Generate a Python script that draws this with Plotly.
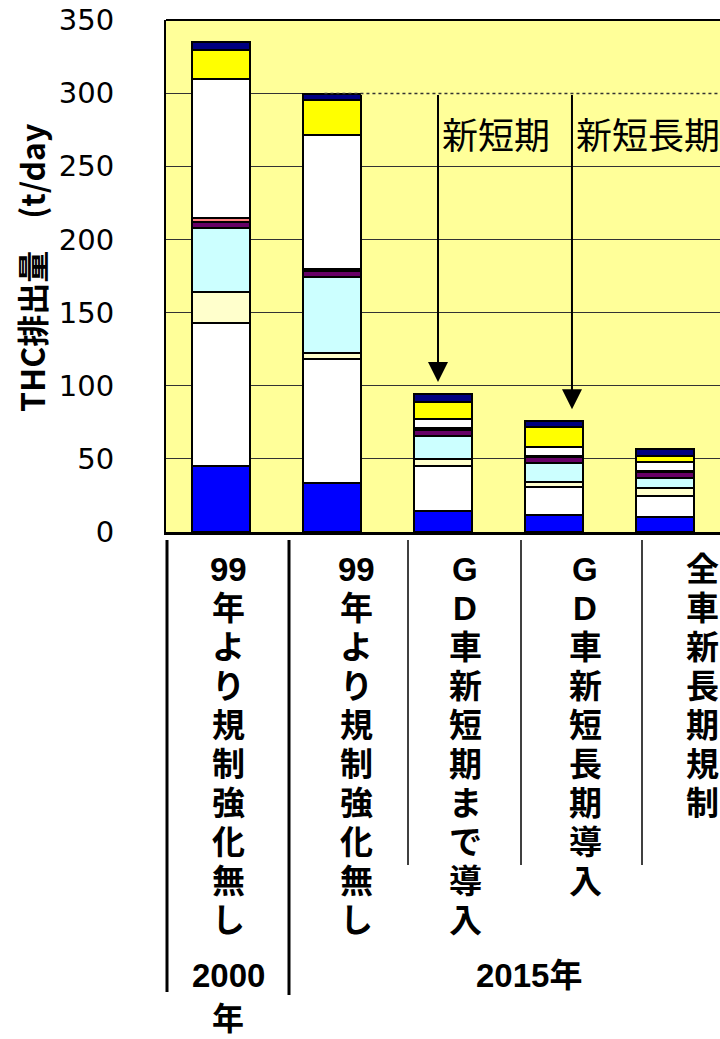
import plotly.graph_objects as go

# ---- data -------------------------------------------------------------
scenarios = ["2000年 99年より規制強化無し", "2015年 99年より規制強化無し",
             "2015年 GD車新短期まで導入", "2015年 GD車新短長期導入", "2015年 全車新長期規制"]
x_pos = [0, 1, 2, 3, 4]

# THC emissions (t/day) per source, stacked bottom to top
seg_blue   = [45.0, 33.2, 14.3, 11.6, 10.0]
seg_white1 = [97.7, 85.2, 30.7, 18.9, 14.8]
seg_cream  = [21.2, 3.9, 5.0, 3.4, 5.0]
seg_cyan   = [43.8, 52.2, 15.7, 13.6, 7.4]
seg_purple = [4.3, 4.1, 4.3, 3.6, 3.7]
seg_pink   = [2.8, 1.0, 1.0, 1.0, 1.0]
seg_white2 = [95.2, 91.8, 6.0, 5.9, 6.0]
seg_yellow = [19.8, 23.8, 11.8, 13.8, 3.9]
seg_navy   = [5.5, 4.5, 5.7, 4.1, 5.2]

series = [
    (seg_blue, "#0000FF"), (seg_white1, "#FFFFFF"), (seg_cream, "#FFFFCC"),
    (seg_cyan, "#CCFFFF"), (seg_purple, "#660066"), (seg_pink, "#FF8080"),
    (seg_white2, "#FFFFFF"), (seg_yellow, "#FFFF00"), (seg_navy, "#000080"),
]

y_ticks = [0, 50, 100, 150, 200, 250, 300, 350]

# vertical category captions, one entry per line
label_lines = [
    ["99", "年", "よ", "り", "規", "制", "強", "化", "無", "し"],
    ["99", "年", "よ", "り", "規", "制", "強", "化", "無", "し"],
    ["G", "D", "車", "新", "短", "期", "ま", "で", "導", "入"],
    ["G", "D", "車", "新", "短", "長", "期", "導", "入"],
    ["全", "車", "新", "長", "期", "規", "制"],
]
year_2000 = ["2000", "年"]
year_2015 = "2015年"
arrow_texts = ["新短期", "新短長期"]

# ---- layout geometry (pixels) ---------------------------------------
W, H = 720, 1039
ML, MR, MT, MB = 166, 0, 20, 507
PW, PH = W - ML - MR, H - MT - MB


def px_x(px):
    return (px - ML) / PW


def px_y(py):
    return (H - MB - py) / PH


totals = [sum(v) for v in zip(*[s for s, _ in series])]

fig = go.Figure()
for vals, color in series:
    fig.add_trace(go.Bar(
        x=x_pos, y=vals, width=0.525,
        marker=dict(color=color, line=dict(color="black", width=2)),
        showlegend=False, hoverinfo="skip",
    ))

CJK = "Noto Sans CJK JP"
LBL = "Liberation Sans, Noto Sans CJK JP"
ann = []

# y-axis title
ann.append(dict(text="<b>THC排出量　(t/day</b>", textangle=-90,
                xref="paper", yref="paper", x=px_x(31), y=px_y(268),
                xanchor="center", yanchor="middle", showarrow=False,
                font=dict(family=CJK, size=32, color="black")))

# vertical captions under each bar, one character per row (39 px pitch)
label_cx = [228, 356, 465, 585, 702]
for cx, lines in zip(label_cx, label_lines):
    for i, ch in enumerate(lines):
        ann.append(dict(text="<b>%s</b>" % ch, xref="paper", yref="paper",
                        x=px_x(cx), y=px_y(569 + 39 * i),
                        xanchor="center", yanchor="middle", showarrow=False,
                        font=dict(family=LBL, size=33, color="black")))

ann.append(dict(text="<b>%s</b>" % year_2000[0], xref="paper", yref="paper",
                x=px_x(228), y=px_y(975), xanchor="center", yanchor="middle",
                showarrow=False, font=dict(family=LBL, size=33, color="black")))
ann.append(dict(text="<b>%s</b>" % year_2000[1], xref="paper", yref="paper",
                x=px_x(228), y=px_y(1019), xanchor="center", yanchor="middle",
                showarrow=False, font=dict(family=LBL, size=32, color="black")))
ann.append(dict(text="<b>%s</b>" % year_2015, xref="paper", yref="paper",
                x=px_x(529), y=px_y(975), xanchor="center", yanchor="middle",
                showarrow=False, font=dict(family=LBL, size=33, color="black")))

# arrows from the 2015 baseline level down to the regulated cases
level = totals[1]
arrow_x = [1.955, 3.164]
for ax_, target, txt in zip(arrow_x, [2, 3], arrow_texts):
    ann.append(dict(text="", x=ax_, y=totals[target] + 8, xref="x", yref="y",
                    ax=ax_, ay=level, axref="x", ayref="y",
                    showarrow=True, arrowhead=2, arrowsize=2, arrowwidth=2,
                    arrowcolor="black", standoff=0))
    ann.append(dict(text=txt, x=ax_ + 0.02, y=272.5, xref="x", yref="y",
                    xanchor="left", yanchor="middle", showarrow=False,
                    font=dict(family=CJK, size=36, color="black")))

shapes = []
# dotted reference level to the right of the 2015 baseline bar
shapes.append(dict(type="line", xref="x", yref="y", x0=1.26, x1=4.5,
                   y0=level, y1=level, line=dict(color="#FFFF99", width=3),
                   layer="above"))
shapes.append(dict(type="line", xref="x", yref="y", x0=0.93, x1=4.5,
                   y0=level, y1=level, line=dict(color="#333333", width=1.5, dash="dot"),
                   layer="above"))
# top frame line
shapes.append(dict(type="line", xref="paper", yref="paper", x0=0, x1=1, y0=1, y1=1,
                   line=dict(color="black", width=2)))
# category separators below the axis
sep_px = [(167, 992, 3), (289, 995, 3), (408, 865, 1.5), (521, 865, 1.5), (642, 865, 1.5)]
for sx, bottom, lw in sep_px:
    shapes.append(dict(type="line", xref="paper", yref="paper",
                       x0=px_x(sx), x1=px_x(sx), y0=px_y(540), y1=px_y(bottom),
                       line=dict(color="black", width=lw)))

fig.update_layout(
    width=W, height=H, barmode="stack",
    margin=dict(l=ML, r=MR, t=MT, b=MB, pad=0),
    paper_bgcolor="white", plot_bgcolor="#FFFF99",
    annotations=ann, shapes=shapes,
    xaxis=dict(range=[-0.5, 4.5], showticklabels=False, ticks="", showgrid=False,
               zeroline=False, showline=True, linecolor="black", linewidth=3),
    yaxis=dict(range=[0, 350], tickvals=y_ticks, ticks="", showgrid=True,
               gridcolor="#333333", gridwidth=1, zeroline=False,
               showline=True, linecolor="black", linewidth=2,
               ticklabelstandoff=44,
               tickfont=dict(family="DejaVu Sans", size=29, color="black")),
)

fig.write_html("out.html")
